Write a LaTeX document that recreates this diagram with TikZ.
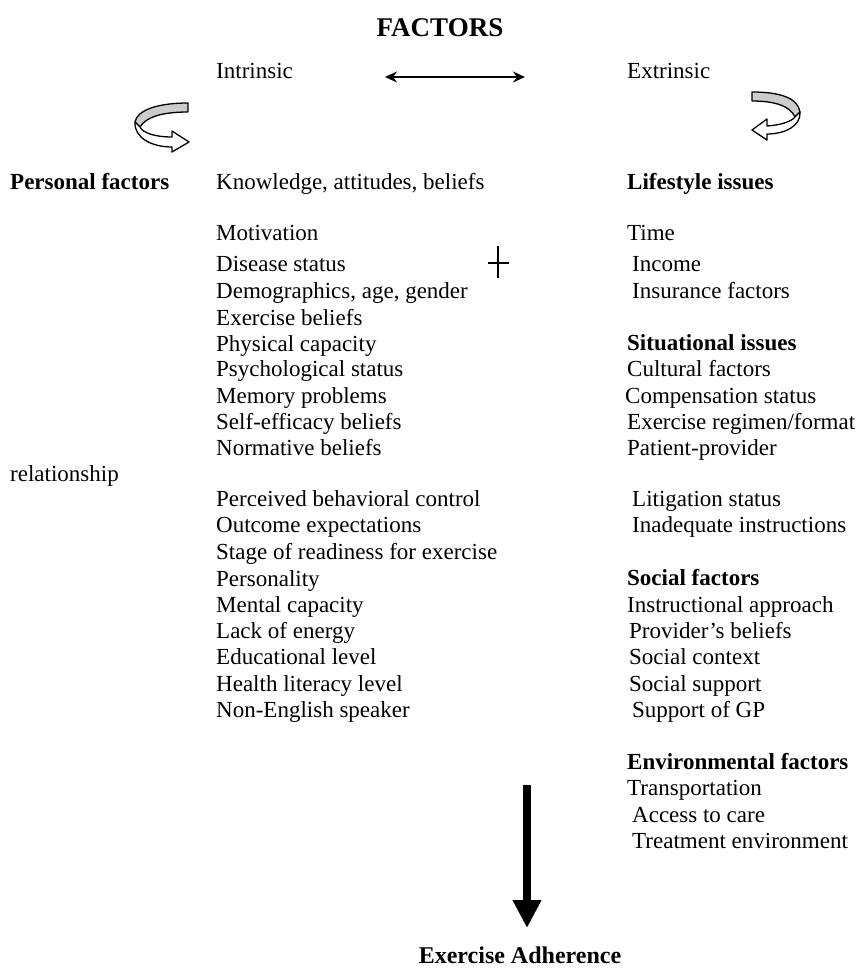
\documentclass[tikz,border=0pt]{standalone}
\usepackage{fontspec}
\setmainfont{Liberation Serif}
\usetikzlibrary{arrows.meta}
\tikzset{
  item/.style={anchor=base west, inner sep=0pt, font=\fontsize{23}{26}\selectfont},
  head/.style={item, font=\fontsize{23}{26}\selectfont\bfseries},
  title/.style={anchor=base, inner sep=0pt, font=\fontsize{27}{30}\selectfont\bfseries},
  ribbon/.style={draw=black, line width=1.3pt, line join=round},
}
\begin{document}
\begin{tikzpicture}[x=1pt,y=-1pt]
\useasboundingbox (0,0) rectangle (857,969);
% title
\node[title] (factors) at (440,36) {FACTORS};
\node[item] (intr) at (216,78) {Intrinsic};
\node[item] (extr) at (627,78) {Extrinsic};
\coordinate (dl) at (385,77);
\coordinate (dr) at (525,77);
\draw[line width=1.5pt, {Stealth[length=12pt,width=11pt]}-{Stealth[length=12pt,width=11pt]}] (dl) -- (dr);
% left curved arrow
\draw[ribbon, fill=gray!40] (188,103) .. controls (158,103) and (137,110) .. (135,122) -- (140,127) .. controls (146,117) and (162,112) .. (188,112) -- cycle;
\draw[ribbon, fill=white] (135,122) .. controls (134,138) and (152,147) .. (172,147) -- (172,152) -- (189,142) -- (172,131) -- (172,137) .. controls (155,137) and (143,133) .. (140,127) -- cycle;
% right curved arrow
\draw[ribbon, fill=gray!40] (752,92) .. controls (780,92) and (798,98) .. (800,112) -- (795,117) .. controls (790,106) and (775,101) .. (752,101) -- cycle;
\draw[ribbon, fill=white] (800,112) .. controls (801,126) and (785,134) .. (767,134) -- (767,140) -- (752,130) -- (767,119) -- (767,126) .. controls (782,125) and (792,121) .. (795,117) -- cycle;
% left labels
\node[head] (pers) at (10,189) {Personal factors};
\node[item] (rel) at (10,481) {relationship};
% intrinsic list
\node[item] (i1) at (216,189) {Knowledge, attitudes, beliefs};
\node[item] (i2) at (216,240) {Motivation};
\node[item] (i3) at (216,271) {Disease status};
\node[item] (i4) at (216,298) {Demographics, age, gender};
\node[item] (i5) at (216,325) {Exercise beliefs};
\node[item] (i6) at (216,351) {Physical capacity};
\node[item] (i7) at (216,376) {Psychological status};
\node[item] (i8) at (216,403) {Memory problems};
\node[item] (i9) at (216,429) {Self-efficacy beliefs};
\node[item] (i10) at (216,455) {Normative beliefs};
\node[item] (i11) at (216,506) {Perceived behavioral control};
\node[item] (i12) at (216,532) {Outcome expectations};
\node[item] (i13) at (216,559) {Stage of readiness for exercise};
\node[item] (i14) at (216,586) {Personality};
\node[item] (i15) at (216,612) {Mental capacity};
\node[item] (i16) at (216,638) {Lack of energy};
\node[item] (i17) at (216,664) {Educational level};
\node[item] (i18) at (216,691) {Health literacy level};
\node[item] (i19) at (216,717) {Non-English speaker};
% plus
\coordinate (pt) at (498,246);
\coordinate (pb) at (498,278);
\coordinate (pl) at (488,263);
\coordinate (pr) at (509,263);
\draw[line width=1.5pt] (pt) -- (pb);
\draw[line width=1.5pt] (pl) -- (pr);
% extrinsic list
\node[head] (e0) at (627,189) {Lifestyle issues};
\node[item] (e1) at (627,240) {Time};
\node[item] (e2) at (632,271) {Income};
\node[item] (e3) at (632,298) {Insurance factors};
\node[head] (e4) at (627,350) {Situational issues};
\node[item] (e5) at (627,376) {Cultural factors};
\node[item] (e6) at (625,403) {Compensation status};
\node[item] (e7) at (627,429) {Exercise regimen/format};
\node[item] (e8) at (627,455) {Patient-provider};
\node[item] (e9) at (632,506) {Litigation status};
\node[item] (e10) at (632,532) {Inadequate instructions};
\node[head] (e11) at (627,585) {Social factors};
\node[item] (e12) at (627,612) {Instructional approach};
\node[item] (e13) at (629,638) {Provider's beliefs};
\node[item] (e14) at (629,664) {Social context};
\node[item] (e15) at (629,691) {Social support};
\node[item] (e16) at (632,717) {Support of GP};
\node[head] (e17) at (627,769) {Environmental factors};
\node[item] (e18) at (627,795) {Transportation};
\node[item] (e19) at (632,822) {Access to care};
\node[item] (e20) at (632,848) {Treatment environment};
% bottom arrow
\node[title, font=\fontsize{24}{28}\selectfont\bfseries] (adh) at (520,963) {Exercise Adherence};
\coordinate (at) at (527,785);
\coordinate (ab) at (527,928);
\draw[line width=8pt, -{Triangle[length=28pt,width=27pt]}] (at) -- (ab);
\end{tikzpicture}
\end{document}
